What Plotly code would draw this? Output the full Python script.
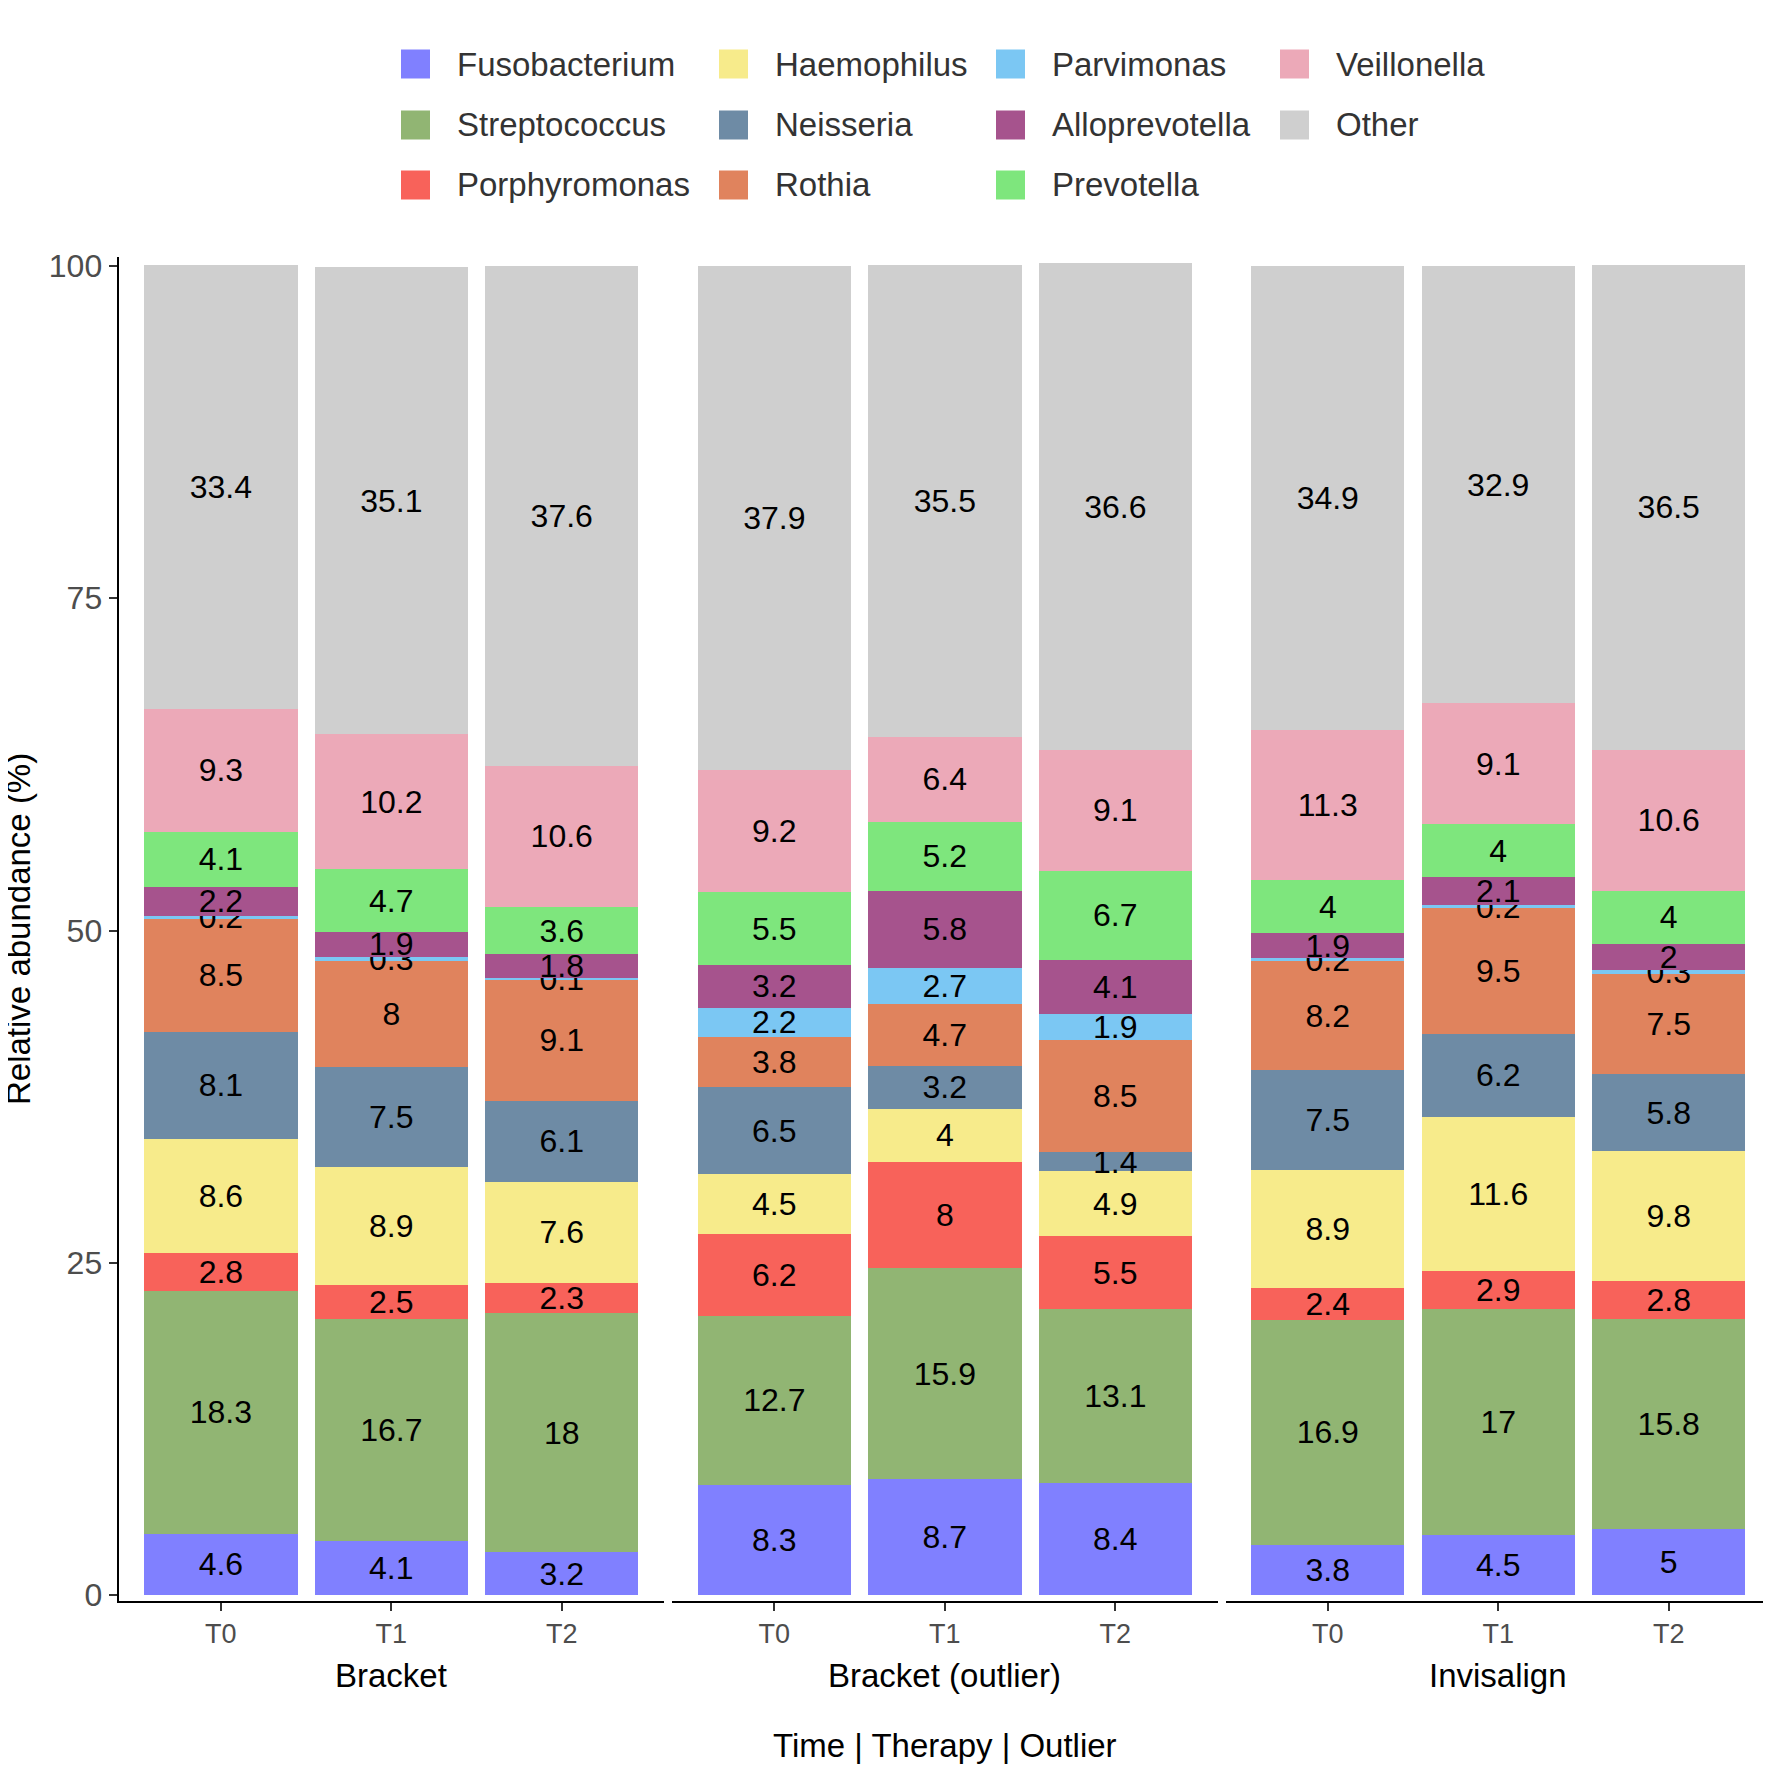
import plotly.graph_objects as go
from plotly.subplots import make_subplots

# groups / time points
therapies = ["Bracket", "Bracket (outlier)", "Invisalign"]
times = ["T0", "T1", "T2"]

# relative abundance (%), order: Bracket T0-T2, Bracket (outlier) T0-T2, Invisalign T0-T2
fusobacterium  = [4.6, 4.1, 3.2,   8.3, 8.7, 8.4,    3.8, 4.5, 5.0]
streptococcus  = [18.3, 16.7, 18.0, 12.7, 15.9, 13.1, 16.9, 17.0, 15.8]
porphyromonas  = [2.8, 2.5, 2.3,   6.2, 8.0, 5.5,    2.4, 2.9, 2.8]
haemophilus    = [8.6, 8.9, 7.6,   4.5, 4.0, 4.9,    8.9, 11.6, 9.8]
neisseria      = [8.1, 7.5, 6.1,   6.5, 3.2, 1.4,    7.5, 6.2, 5.8]
rothia         = [8.5, 8.0, 9.1,   3.8, 4.7, 8.5,    8.2, 9.5, 7.5]
parvimonas     = [0.2, 0.3, 0.1,   2.2, 2.7, 1.9,    0.2, 0.2, 0.3]
alloprevotella = [2.2, 1.9, 1.8,   3.2, 5.8, 4.1,    1.9, 2.1, 2.0]
prevotella     = [4.1, 4.7, 3.6,   5.5, 5.2, 6.7,    4.0, 4.0, 4.0]
veillonella    = [9.3, 10.2, 10.6, 9.2, 6.4, 9.1,    11.3, 9.1, 10.6]
other          = [33.4, 35.1, 37.6, 37.9, 35.5, 36.6, 34.9, 32.9, 36.5]

genera = ["Fusobacterium", "Streptococcus", "Porphyromonas", "Haemophilus",
          "Neisseria", "Rothia", "Parvimonas", "Alloprevotella",
          "Prevotella", "Veillonella", "Other"]
values = [fusobacterium, streptococcus, porphyromonas, haemophilus, neisseria,
          rothia, parvimonas, alloprevotella, prevotella, veillonella, other]
colors = ["#8080FF", "#91B573", "#F8625A", "#F7EB8B", "#6E8BA5", "#E0835D",
          "#7BC7F3", "#A6538D", "#7EE67D", "#ECA9B8", "#CFCFCF"]

FONT = "Liberation Sans, Arial, sans-serif"
OFF = 8  # page body margin of the html
W = H = 1771 - OFF
ML, MR, MT, MB = 118 - OFF, 0, 257 - OFF, 170
PW, PH = W - ML - MR, H - MT - MB

# positions below are given in page pixels
def px_x(p):
    return (p - OFF - ML) / PW

def px_y(p):
    return (H - MB - (p - OFF)) / PH

fig = make_subplots(rows=1, cols=3, shared_yaxes=True, horizontal_spacing=0.005)

for k, therapy in enumerate(therapies):
    for name, vals, col in zip(genera, values, colors):
        seg = vals[3 * k:3 * k + 3]
        fig.add_trace(go.Bar(
            x=times, y=seg, name=name, marker_color=col, marker_line_width=0,
            text=[f"{v:g}" for v in seg], textposition="inside",
            insidetextanchor="middle", textangle=0,
            textfont=dict(family=FONT, size=32, color="black"),
            showlegend=False,
        ), row=1, col=k + 1)

fig.update_layout(
    width=W, height=H, barmode="stack", bargap=0.1,
    plot_bgcolor="white", paper_bgcolor="white",
    margin=dict(l=ML, r=MR, t=MT, b=MB, autoexpand=False),
    uniformtext=dict(mode="show", minsize=32),
    font=dict(family=FONT, color="black"),
)

doms = [(px_x(118.6), px_x(664)), (px_x(672), px_x(1217.6)), (px_x(1225.5), px_x(1771))]
for k in range(3):
    fig.update_xaxes(
        domain=list(doms[k]), range=[-0.6, 2.6], showline=True, linecolor="black",
        linewidth=2, ticks="outside", ticklen=8, tickwidth=2, tickcolor="#333333",
        tickfont=dict(family=FONT, size=27, color="#4D4D4D"), showgrid=False,
        zeroline=False, row=1, col=k + 1,
    )
fig.update_yaxes(range=[-0.45, 100.68], tickvals=[0, 25, 50, 75, 100], showgrid=False,
                 zeroline=False)
fig.update_yaxes(showline=True, linecolor="black", linewidth=2, ticks="outside",
                 ticklen=8, tickwidth=2, tickcolor="#333333",
                 tickfont=dict(family=FONT, size=32, color="#4D4D4D"), row=1, col=1)

# facet strips (bottom) and axis titles
for k, therapy in enumerate(therapies):
    fig.add_annotation(text=therapy, x=sum(doms[k]) / 2, y=px_y(1675), xref="paper",
                       yref="paper", xanchor="center", yanchor="middle", showarrow=False,
                       font=dict(size=33, color="black"))
fig.add_annotation(text="Time | Therapy | Outlier", x=(doms[0][0] + doms[2][1]) / 2,
                   y=px_y(1745), xref="paper", yref="paper", xanchor="center",
                   yanchor="middle", showarrow=False, font=dict(size=33, color="black"))
fig.add_annotation(text="Relative abundance (%)", x=px_x(18), y=px_y(929), xref="paper",
                   yref="paper", xanchor="center", yanchor="middle", showarrow=False,
                   textangle=-90, font=dict(size=33, color="black"))

# legend, 3 rows x 4 columns, filled column by column
col_x = [401, 719, 996, 1280]
row_y = [64, 125, 185]
sq = 29
for i, (name, col) in enumerate(zip(genera, colors)):
    cx, cy = col_x[i // 3], row_y[i % 3]
    fig.add_shape(type="rect", xref="paper", yref="paper",
                  x0=px_x(cx), x1=px_x(cx + sq), y0=px_y(cy - sq / 2), y1=px_y(cy + sq / 2),
                  fillcolor=col, line_width=0)
    fig.add_annotation(text=name, x=px_x(cx + 54), y=px_y(cy), xref="paper", yref="paper",
                       xanchor="left", yanchor="middle", showarrow=False,
                       font=dict(size=33, color="#333333"))

fig.write_html("out.html")
